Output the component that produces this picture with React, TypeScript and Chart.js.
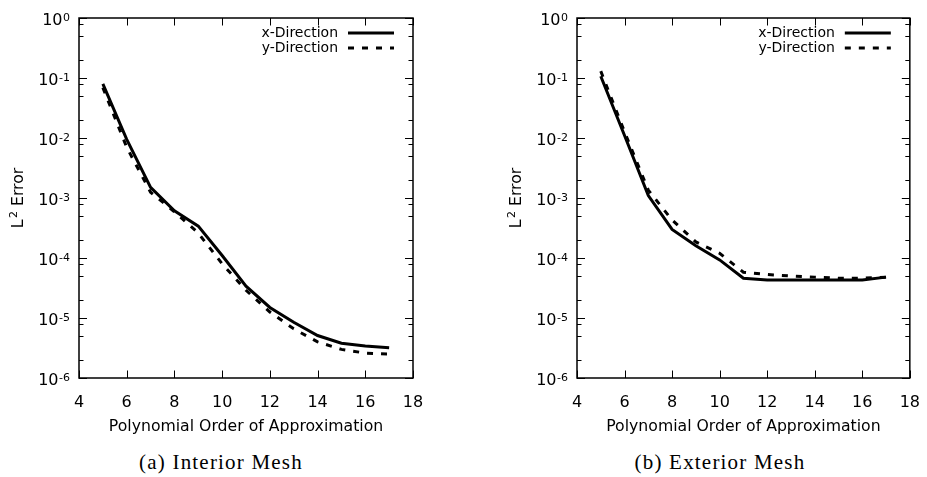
import React, { useEffect, useRef } from "react";
import { Chart, registerables } from "chart.js";

Chart.register(...registerables);

// ---- data ----
const orders = [5, 6, 7, 8, 9, 10, 11, 12, 13, 14, 15, 16, 17];
const interiorX = [0.08, 0.0095, 0.0015, 0.00061, 0.00034, 0.00011, 3.4e-5, 1.5e-5, 8.5e-6, 5.1e-6, 3.8e-6, 3.4e-6, 3.2e-6];
const interiorY = [0.069, 0.007, 0.00125, 0.00059, 0.00026, 8e-5, 2.9e-5, 1.26e-5, 6.6e-6, 4e-6, 3e-6, 2.6e-6, 2.5e-6];
const exteriorX = [0.107, 0.011, 0.0011, 0.0003, 0.00016, 9.3e-5, 4.6e-5, 4.3e-5, 4.3e-5, 4.3e-5, 4.3e-5, 4.3e-5, 4.8e-5];
const exteriorY = [0.13, 0.0126, 0.00135, 0.00043, 0.000185, 0.00012, 5.8e-5, 5.3e-5, 5e-5, 4.8e-5, 4.6e-5, 4.6e-5, 4.8e-5];
const xTicks = [4, 6, 8, 10, 12, 14, 16, 18];
const yDecades = [1e-6, 1e-5, 1e-4, 1e-3, 1e-2, 1e-1, 1];
const yMinorFactors = [2, 5, 8];
const seriesLabels = ["x-Direction", "y-Direction"];
const captions = ["(a) Interior Mesh", "(b) Exterior Mesh"];
const xTitle = "Polynomial Order of Approximation";
const yTitleBase = "L";
const yTitleSup = "2";
const yTitleRest = " Error";

const FONT = '"DejaVu Sans", Verdana, sans-serif';

const framePlugin = {
  id: "frameTicksLegend",
  afterDraw(chart: any) {
    const { ctx, chartArea: a, scales } = chart;
    ctx.save();
    ctx.strokeStyle = "#000";
    ctx.fillStyle = "#000";
    ctx.lineWidth = 1;
    const line = (x1: number, y1: number, x2: number, y2: number) => {
      ctx.beginPath();
      ctx.moveTo(x1, y1);
      ctx.lineTo(x2, y2);
      ctx.stroke();
    };
    // x ticks
    for (const v of xTicks) {
      const px = Math.round(scales.x.getPixelForValue(v)) + 0.5;
      line(px, a.bottom, px, a.bottom - 7.5);
      line(px, a.top, px, a.top + 7.5);
    }
    // y ticks + labels
    for (const d of yDecades) {
      const py = Math.round(scales.y.getPixelForValue(d)) + 0.5;
      line(a.left, py, a.left + 8, py);
      line(a.right, py, a.right - 8, py);
      if (d < 1) {
        for (const f of yMinorFactors) {
          const my = Math.round(scales.y.getPixelForValue(d * f)) + 0.5;
          line(a.left, my, a.left + 4.5, my);
          line(a.right, my, a.right - 4.5, my);
        }
      }
      const exp = String(Math.round(Math.log10(d)));
      ctx.textBaseline = "alphabetic";
      ctx.textAlign = "left";
      ctx.font = `11px ${FONT}`;
      const ew = ctx.measureText(exp).width;
      ctx.font = `16px ${FONT}`;
      const bw = ctx.measureText("10").width;
      const right = a.left - 9;
      ctx.fillText("10", right - ew - bw - 0.5, py + 6.3);
      ctx.font = `11px ${FONT}`;
      ctx.fillText(exp, right - ew, py + 2.5);
    }
    // y title
    ctx.save();
    ctx.translate(a.left - 62, (a.top + a.bottom) / 2);
    ctx.rotate(-Math.PI / 2);
    ctx.font = `15.7px ${FONT}`;
    const w1 = ctx.measureText(yTitleBase).width;
    const w3 = ctx.measureText(yTitleRest).width;
    ctx.font = `11px ${FONT}`;
    const w2 = ctx.measureText(yTitleSup).width + 1.5;
    const total = w1 + w2 + w3;
    let x0 = -total / 2;
    ctx.textAlign = "left";
    ctx.textBaseline = "alphabetic";
    ctx.font = `15.7px ${FONT}`;
    ctx.fillText(yTitleBase, x0, 6);
    ctx.font = `11px ${FONT}`;
    ctx.fillText(yTitleSup, x0 + w1 + 1.5, 0);
    ctx.font = `15.7px ${FONT}`;
    ctx.fillText(yTitleRest, x0 + w1 + w2, 6);
    ctx.restore();
    // frame
    ctx.lineWidth = 1.5;
    ctx.strokeRect(a.left, a.top, a.right - a.left, a.bottom - a.top);
    // legend
    ctx.font = `14px ${FONT}`;
    ctx.textAlign = "right";
    ctx.textBaseline = "middle";
    chart.data.datasets.forEach((ds: any, i: number) => {
      const y = a.top + 15 + i * 15;
      ctx.fillText(ds.label, a.right - 75, y);
      ctx.save();
      ctx.lineWidth = ds.borderWidth;
      ctx.setLineDash(ds.borderDash || []);
      ctx.lineCap = "butt";
      line(a.right - 65, y, a.right - 19, y);
      ctx.restore();
    });
    ctx.restore();
  },
};

function makeConfig(xVals: number[], yVals: number[], padLeft: number, padRight: number): any {
  const pts = (arr: number[]) => orders.map((o, i) => ({ x: o, y: arr[i] }));
  return {
    type: "line",
    data: {
      datasets: [
        {
          label: seriesLabels[0],
          data: pts(xVals),
          borderColor: "#000",
          borderWidth: 3,
          pointRadius: 0,
          tension: 0,
          fill: false,
        },
        {
          label: seriesLabels[1],
          data: pts(yVals),
          borderColor: "#000",
          borderWidth: 3,
          borderDash: [6, 8],
          borderCapStyle: "butt",
          pointRadius: 0,
          tension: 0,
          fill: false,
        },
      ],
    },
    options: {
      responsive: false,
      animation: false,
      devicePixelRatio: 1,
      layout: { padding: { left: padLeft, right: padRight, top: 18, bottom: 0 } },
      plugins: { legend: { display: false }, tooltip: { enabled: false }, title: { display: false } },
      scales: {
        x: {
          type: "linear",
          min: 4,
          max: 18,
          afterBuildTicks: (s: any) => {
            s.ticks = xTicks.map((v) => ({ value: v }));
          },
          ticks: { color: "#000", font: { family: FONT, size: 16 }, padding: 7, autoSkip: false, maxRotation: 0 },
          grid: { display: false },
          border: { display: false },
          title: {
            display: true,
            text: xTitle,
            color: "#000",
            font: { family: FONT, size: 15.7 },
            padding: { top: 4, bottom: 4 },
          },
          afterFit: (s: any) => {
            s.height = 62;
          },
        },
        y: {
          type: "logarithmic",
          min: 1e-6,
          max: 1,
          afterBuildTicks: (s: any) => {
            s.ticks = yDecades.map((v) => ({ value: v }));
          },
          ticks: { display: false },
          grid: { display: false },
          border: { display: false },
          title: { display: false },
          afterFit: (s: any) => {
            s.width = 79;
          },
        },
      },
    },
    plugins: [framePlugin],
  };
}

function Panel(props: { xVals: number[]; yVals: number[]; left: number; width: number; padLeft: number; padRight: number }) {
  const ref = useRef<HTMLCanvasElement | null>(null);
  useEffect(() => {
    let chart: any = null;
    let cancelled = false;
    const build = () => {
      if (cancelled || !ref.current) return;
      chart = new Chart(ref.current, makeConfig(props.xVals, props.yVals, props.padLeft, props.padRight));
    };
    const fonts: any = (document as any).fonts;
    if (fonts && fonts.load) {
      Promise.all([fonts.load('16px "DejaVu Sans"'), fonts.load('11px "DejaVu Sans"')]).then(build, build);
    } else {
      build();
    }
    return () => {
      cancelled = true;
      if (chart) chart.destroy();
    };
  }, []);
  return (
    <canvas
      ref={ref}
      width={props.width}
      height={440}
      style={{ position: "absolute", left: props.left, top: 0, width: props.width, height: 440 }}
    />
  );
}

const captionStyle = (center: number): React.CSSProperties => ({
  position: "absolute",
  left: center - 150,
  width: 300,
  top: 449,
  textAlign: "center",
  fontFamily: "'Liberation Serif', serif",
  fontSize: 21,
  letterSpacing: 1.2,
  lineHeight: "26px",
  color: "#000",
  whiteSpace: "nowrap",
});

export default function App() {
  return (
    <div style={{ position: "fixed", left: 0, top: 0, width: 927, height: 477, background: "#fff", overflow: "hidden" }}>
      <Panel xVals={interiorX} yVals={interiorY} left={0} width={463} padLeft={0} padRight={50} />
      <Panel xVals={exteriorX} yVals={exteriorY} left={463} width={464} padLeft={35} padRight={16} />
      <div style={captionStyle(221)}>{captions[0]}</div>
      <div style={captionStyle(720)}>{captions[1]}</div>
    </div>
  );
}
